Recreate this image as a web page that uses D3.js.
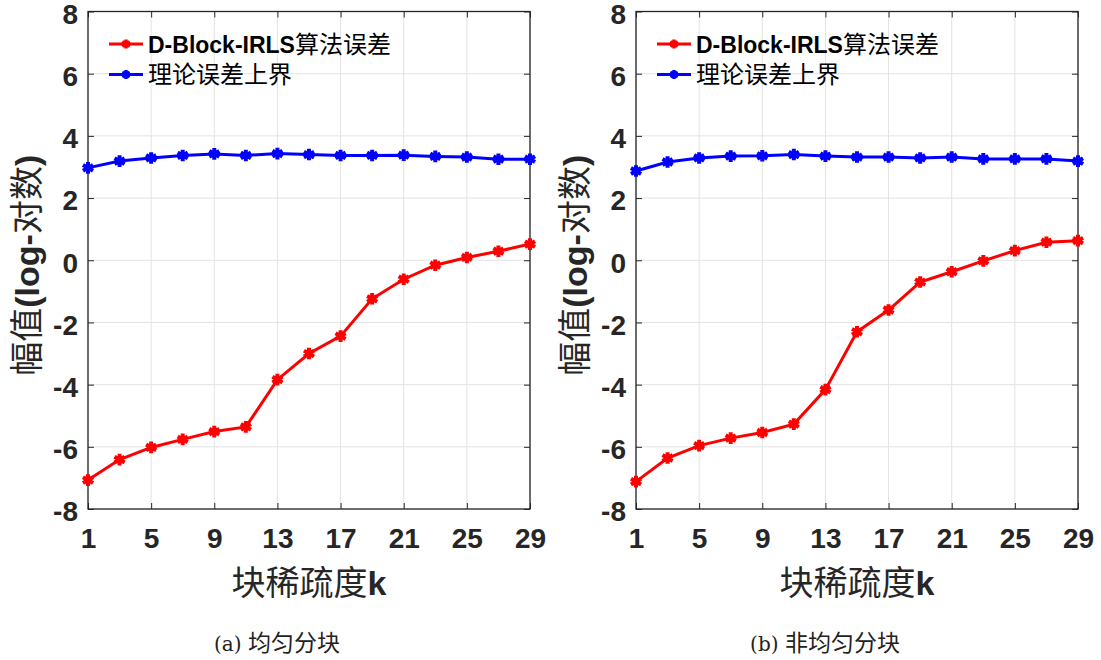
<!DOCTYPE html>
<html>
<head>
<meta charset="utf-8">
<script src="https://cdn.jsdelivr.net/npm/d3@7"></script>
<style>
  body { margin: 0; background: #fff; }
  svg { display: block; }
</style>
</head>
<body>
<svg id="canvas"></svg>
<script>
let width = 1101;
let height = 660;

// block sparsity k
let kValues = [1, 3, 5, 7, 9, 11, 13, 15, 17, 19, 21, 23, 25, 27, 29];
let xTicks = [1, 5, 9, 13, 17, 21, 25, 29];
let yTicks = [-8, -6, -4, -2, 0, 2, 4, 6, 8];

// (a) uniform blocks
let errorA = [-7.07, -6.41, -6.02, -5.76, -5.51, -5.36, -3.84, -3.00, -2.44, -1.24, -0.61, -0.16, 0.09, 0.29, 0.52];
let boundA = [2.97, 3.19, 3.29, 3.37, 3.42, 3.37, 3.43, 3.40, 3.37, 3.37, 3.38, 3.34, 3.32, 3.25, 3.25];

// (b) non-uniform blocks
let errorB = [-7.12, -6.36, -5.96, -5.72, -5.54, -5.27, -4.16, -2.30, -1.60, -0.70, -0.37, -0.02, 0.31, 0.58, 0.63];
let boundB = [2.87, 3.16, 3.29, 3.35, 3.36, 3.40, 3.35, 3.32, 3.32, 3.29, 3.32, 3.26, 3.26, 3.26, 3.19];

let seriesNames = ["D-Block-IRLS算法误差", "理论误差上界"];
let seriesColors = ["#ff0000", "#0000ff"];
let captions = ["(a) 均匀分块", "(b) 非均匀分块"];

let canvas = d3.select("#canvas")
  .attr("width", width)
  .attr("height", height);

let numFont = "'Liberation Sans', Arial, sans-serif";
let cjkFont = "'Noto Sans CJK SC', sans-serif";

let drawPanel = (left, right, errors, bounds, caption) => {
  let top = 11.5;
  let bottom = 509;

  let xScale = d3.scaleLinear().domain([1, 29]).range([left, right]);
  let yScale = d3.scaleLinear().domain([-8, 8]).range([bottom, top]);

  let g = canvas.append("g");

  // grid
  g.selectAll(".xgrid").data(xTicks).enter().append("line")
    .attr("x1", d => xScale(d)).attr("x2", d => xScale(d))
    .attr("y1", top).attr("y2", bottom)
    .attr("stroke", "#e3e3e3").attr("stroke-width", 1);
  g.selectAll(".ygrid").data(yTicks).enter().append("line")
    .attr("y1", d => yScale(d)).attr("y2", d => yScale(d))
    .attr("x1", left).attr("x2", right)
    .attr("stroke", "#e3e3e3").attr("stroke-width", 1);

  // axes with inward ticks, plain hyphen for negatives
  let fmt = d => String(d);
  let xAxis = d3.axisBottom(xScale).tickValues(xTicks).tickSize(-6).tickPadding(14).tickFormat(fmt);
  let yAxis = d3.axisLeft(yScale).tickValues(yTicks).tickSize(-6).tickPadding(10).tickFormat(fmt);

  let xg = g.append("g").attr("transform", "translate(0," + bottom + ")").call(xAxis);
  let yg = g.append("g").attr("transform", "translate(" + left + ",0)").call(yAxis);
  g.append("g").attr("transform", "translate(0," + top + ")")
    .call(d3.axisTop(xScale).tickValues(xTicks).tickSize(-6).tickFormat(""));
  g.append("g").attr("transform", "translate(" + right + ",0)")
    .call(d3.axisRight(yScale).tickValues(yTicks).tickSize(-6).tickFormat(""));

  g.selectAll(".domain").remove();
  g.selectAll(".tick line").attr("stroke", "#262626");
  g.selectAll(".tick text")
    .attr("fill", "#262626")
    .style("font-family", numFont)
    .style("font-weight", "bold")
    .style("font-size", "28px");
  xg.selectAll(".tick text").attr("dy", "0.9em");
  yg.selectAll(".tick text").attr("dy", "0.42em");

  g.append("rect")
    .attr("x", left).attr("y", top)
    .attr("width", right - left).attr("height", bottom - top)
    .attr("fill", "none").attr("stroke", "#262626").attr("stroke-width", 1.3);

  // series
  let line = d3.line().x((d, i) => xScale(kValues[i])).y(d => yScale(d));
  let marker = d3.symbol(d3.symbolAsterisk).size(95);
  [errors, bounds].forEach((vals, s) => {
    g.append("path")
      .datum(vals)
      .attr("d", line)
      .attr("fill", "none")
      .attr("stroke", seriesColors[s])
      .attr("stroke-width", 3);
    g.selectAll(".m" + s).data(vals).enter().append("path")
      .attr("d", marker)
      .attr("transform", (d, i) => "translate(" + xScale(kValues[i]) + "," + yScale(d) + ")")
      .attr("fill", seriesColors[s])
      .attr("stroke", seriesColors[s])
      .attr("stroke-width", 4);
  });

  // legend
  seriesNames.forEach((name, s) => {
    let ly = 44 + s * 30.5;
    let lx = left + 21;
    g.append("line")
      .attr("x1", lx).attr("x2", lx + 34)
      .attr("y1", ly).attr("y2", ly)
      .attr("stroke", seriesColors[s]).attr("stroke-width", 3);
    g.append("path")
      .attr("d", d3.symbol(d3.symbolAsterisk).size(55))
      .attr("transform", "translate(" + (lx + 17) + "," + ly + ")")
      .attr("fill", seriesColors[s])
      .attr("stroke", seriesColors[s])
      .attr("stroke-width", 3.5);
    let t = g.append("text")
      .attr("x", lx + 39).attr("y", ly + 8.5)
      .attr("fill", "#000")
      .style("font-size", "24px");
    if (s === 0) {
      t.append("tspan").text("D-Block-IRLS")
        .style("font-family", numFont).style("font-weight", "bold").style("font-size", "23px");
      t.append("tspan").text("算法误差").style("font-family", cjkFont);
    } else {
      t.text(name).style("font-family", cjkFont);
    }
  });

  // axis labels
  let xl = g.append("text")
    .attr("x", (left + right) / 2).attr("y", 595)
    .attr("text-anchor", "middle")
    .attr("fill", "#262626")
    .style("font-size", "34px");
  xl.append("tspan").text("块稀疏度").style("font-family", cjkFont);
  xl.append("tspan").text("k").style("font-family", numFont).style("font-weight", "bold");

  let yl = g.append("text")
    .attr("transform", "translate(" + (left - 49) + "," + ((top + bottom) / 2 + 5) + ") rotate(-90)")
    .attr("text-anchor", "middle")
    .attr("fill", "#262626")
    .style("font-size", "34px");
  yl.append("tspan").text("幅值").style("font-family", cjkFont);
  yl.append("tspan").text("(log-").style("font-family", numFont).style("font-weight", "bold");
  yl.append("tspan").text("对数").style("font-family", cjkFont);
  yl.append("tspan").text(")").style("font-family", numFont).style("font-weight", "bold");

  // caption
  let cap = g.append("text")
    .attr("x", (left + right) / 2 - 32).attr("y", 651)
    .attr("text-anchor", "middle")
    .attr("fill", "#222")
    .style("font-size", "23px");
  cap.append("tspan").text(caption.slice(0, 4)).style("font-family", "'DejaVu Serif', serif").style("font-size", "20px");
  cap.append("tspan").text(caption.slice(4)).style("font-family", cjkFont);
};

drawPanel(88, 530, errorA, boundA, captions[0]);
drawPanel(636, 1078, errorB, boundB, captions[1]);
</script>
</body>
</html>
